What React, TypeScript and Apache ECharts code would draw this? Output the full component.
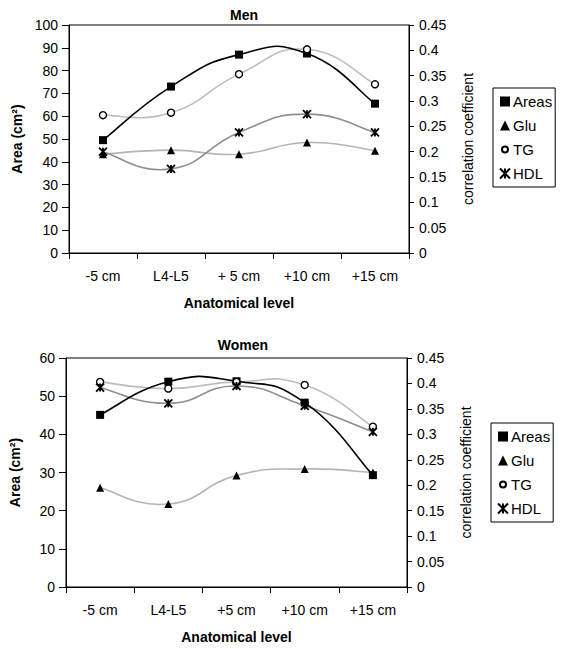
import React, { useEffect, useRef } from "react";
import * as echarts from "echarts";

const menCategories = ["-5 cm", "L4-L5", "+ 5 cm", "+10 cm", "+15 cm"];
const womenCategories = ["-5 cm", "L4-L5", "+5 cm", "+10 cm", "+15 cm"];

const menAreas = [49.5, 73, 87, 87.5, 65.5];
const menGlu = [0.195, 0.203, 0.195, 0.218, 0.202];
const menTG = [0.272, 0.277, 0.353, 0.402, 0.333];
const menHDL = [0.2, 0.166, 0.238, 0.274, 0.238];

const womenAreas = [45.1, 53.8, 53.9, 48.3, 29.3];
const womenGlu = [0.195, 0.163, 0.219, 0.232, 0.225];
const womenTG = [0.403, 0.39, 0.403, 0.397, 0.315];
const womenHDL = [0.392, 0.361, 0.395, 0.356, 0.305];

const FONT = "Liberation Sans, Arial, sans-serif";
const ASTERISK = "path://M0,0L10,10M10,0L0,10M5,0L5,10";
const SMALL_CIRCLE = "path://M0,0L0,0M10,10L10,10M8,5A3,3,0,1,1,2,5A3,3,0,1,1,8,5Z";
const TENSION = 0.25;

function xAxisCfg(gridIndex: number, data: string[]) {
  return {
    type: "category",
    gridIndex,
    data,
    boundaryGap: true,
    axisLine: { lineStyle: { color: "#000", width: 1 } },
    axisTick: { show: true, length: 6, lineStyle: { color: "#000" } },
    axisLabel: { color: "#000", fontSize: 14, fontFamily: FONT, margin: 16, interval: 0 },
    splitLine: { show: false },
    name: "Anatomical level",
    nameLocation: "middle",
    nameGap: 43,
    nameTextStyle: { color: "#000", fontSize: 14, fontWeight: "bold", fontFamily: FONT },
  };
}

function leftAxisCfg(gridIndex: number, max: number, interval: number) {
  return {
    type: "value",
    gridIndex,
    position: "left",
    min: 0,
    max,
    interval,
    axisLine: { show: true, lineStyle: { color: "#000", width: 1 } },
    axisTick: { show: true, length: 7, lineStyle: { color: "#000" } },
    axisLabel: { color: "#000", fontSize: 14, fontFamily: FONT, margin: 11 },
    splitLine: { show: false },
    name: "Area (cm²)",
    nameLocation: "middle",
    nameRotate: 90,
    nameGap: 44,
    nameTextStyle: { color: "#000", fontSize: 14, fontWeight: "bold", fontFamily: FONT },
  };
}

function rightAxisCfg(gridIndex: number) {
  return {
    type: "value",
    gridIndex,
    position: "right",
    min: 0,
    max: 0.45,
    interval: 0.05,
    axisLine: { show: true, lineStyle: { color: "#000", width: 1 } },
    axisTick: { show: true, length: 5, lineStyle: { color: "#000" } },
    axisLabel: { color: "#000", fontSize: 14, fontFamily: FONT, margin: 10 },
    splitLine: { show: false },
    name: "correlation coefficient",
    nameLocation: "middle",
    nameRotate: 90,
    nameGap: 52,
    nameTextStyle: { color: "#000", fontSize: 14, fontFamily: FONT },
  };
}

// Smooth curve drawn segment by segment (Excel-like cardinal spline) using the chart's own scales.
function curveSeries(xIdx: number, yIdx: number, values: number[], color: string, z: number) {
  return {
    type: "custom",
    coordinateSystem: "cartesian2d",
    xAxisIndex: xIdx,
    yAxisIndex: yIdx,
    silent: true,
    z,
    data: values.map((v, i) => [i, v]),
    renderItem: (params: any, api: any) => {
      const i = params.dataIndex;
      const n = values.length;
      if (i >= n - 1) return null;
      const pt = (k: number) => api.coord([k, values[k]]);
      const p0 = pt(i);
      const p1 = pt(i + 1);
      const pPrev = i > 0 ? pt(i - 1) : p0;
      const pNext = i + 2 < n ? pt(i + 2) : p1;
      const cp1 = [p0[0] + TENSION * (p1[0] - pPrev[0]), p0[1] + TENSION * (p1[1] - pPrev[1])];
      const cp2 = [p1[0] - TENSION * (pNext[0] - p0[0]), p1[1] - TENSION * (pNext[1] - p0[1])];
      return {
        type: "bezierCurve",
        shape: {
          x1: p0[0],
          y1: p0[1],
          x2: p1[0],
          y2: p1[1],
          cpx1: cp1[0],
          cpy1: cp1[1],
          cpx2: cp2[0],
          cpy2: cp2[1],
        },
        style: { stroke: color, lineWidth: 1.6, fill: "none" },
      };
    },
  };
}

function markerSeries(name: string, xIdx: number, yIdx: number, values: number[], symbol: string, size: number, itemStyle: any) {
  return {
    name,
    type: "line",
    xAxisIndex: xIdx,
    yAxisIndex: yIdx,
    data: values,
    symbol,
    symbolSize: size,
    showSymbol: true,
    lineStyle: { opacity: 0, width: 0 },
    itemStyle,
    z: 10,
  };
}

function seriesSet(
  xIdx: number,
  yLeft: number,
  yRight: number,
  areas: number[],
  glu: number[],
  tg: number[],
  hdl: number[]
) {
  return [
    curveSeries(xIdx, yRight, glu, "#b4b4b4", 2),
    curveSeries(xIdx, yRight, tg, "#bdbdbd", 2),
    curveSeries(xIdx, yRight, hdl, "#8e8e8e", 3),
    curveSeries(xIdx, yLeft, areas, "#000", 4),
    markerSeries("Areas", xIdx, yLeft, areas, "rect", 8, { color: "#000" }),
    markerSeries("Glu", xIdx, yRight, glu, "triangle", 8, { color: "#000" }),
    markerSeries("TG", xIdx, yRight, tg, "circle", 7, { color: "#fff", borderColor: "#000", borderWidth: 1.4 }),
    markerSeries("HDL", xIdx, yRight, hdl, ASTERISK, 8, { color: "#000", borderColor: "#000", borderWidth: 1.8 }),
  ];
}

function legendCfg(left: number, top: number) {
  return {
    orient: "vertical",
    left,
    top,
    padding: [6, 3, 6, 6],
    itemGap: 9,
    itemWidth: 10,
    itemHeight: 10,
    borderColor: "#000",
    borderWidth: 1,
    borderRadius: 0,
    textStyle: { color: "#000", fontSize: 15, fontFamily: FONT, padding: [0, 0, 0, -2] },
    data: [
      { name: "Areas", icon: "rect" },
      { name: "Glu", icon: "triangle" },
      { name: "TG", icon: SMALL_CIRCLE },
      { name: "HDL", icon: ASTERISK },
    ],
  };
}

export default function App() {
  const ref = useRef<HTMLDivElement>(null);
  useEffect(() => {
    if (!ref.current) return;
    const chart = echarts.init(ref.current, undefined, { renderer: "svg" });
    const gridStyle = { show: true, borderColor: "#000", borderWidth: 1, backgroundColor: "transparent" };
    chart.setOption({
      animation: false,
      backgroundColor: "#fff",
      title: [
        {
          text: "Men",
          left: 239,
          top: 3,
          textAlign: "center",
          textStyle: { fontSize: 14, fontWeight: "bold", color: "#000", fontFamily: FONT },
        },
        {
          text: "Women",
          left: 238,
          top: 333,
          textAlign: "center",
          textStyle: { fontSize: 14, fontWeight: "bold", color: "#000", fontFamily: FONT },
        },
      ],
      legend: [legendCfg(493, 88), legendCfg(491, 423)],
      grid: [
        { left: 69, top: 25, width: 340, height: 228, ...gridStyle },
        { left: 58, top: 358, width: 349, height: 229, ...gridStyle },
      ],
      xAxis: [xAxisCfg(0, menCategories), xAxisCfg(1, womenCategories)],
      yAxis: [leftAxisCfg(0, 100, 10), rightAxisCfg(0), leftAxisCfg(1, 60, 10), rightAxisCfg(1)],
      series: [
        ...seriesSet(0, 0, 1, menAreas, menGlu, menTG, menHDL),
        ...seriesSet(1, 2, 3, womenAreas, womenGlu, womenTG, womenHDL),
      ],
    });
    return () => chart.dispose();
  }, []);
  return (
    <div
      ref={ref}
      style={{ position: "absolute", left: 0, top: 0, width: 563, height: 649 }}
    />
  );
}
